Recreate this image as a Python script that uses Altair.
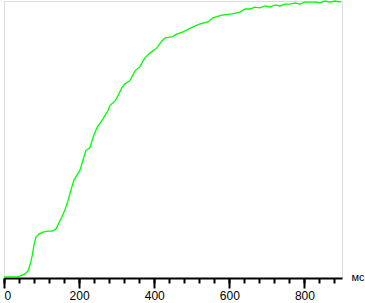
import altair as alt
import pandas as pd

# time, ms
t_ms = [0, 35, 43, 56, 64, 69, 75, 80, 85, 93, 104, 117, 128, 138, 146, 154, 162,
        170, 178, 186, 202, 218, 229, 237, 248, 264, 277, 282, 296, 301, 314, 322,
        335, 349, 362, 375, 389, 407, 421, 429, 447, 461, 477, 503, 522, 543, 556,
        580, 607, 628, 642, 655, 668, 682, 695, 708, 722, 735, 748, 762, 775, 788,
        801, 828, 841, 855, 868, 881, 897]
# cumulative value, %
v_pct = [0, 0, 0.4, 1.1, 2.2, 4.3, 7.6, 11.6, 14.4, 15.5, 16.2, 16.6, 16.6, 17.3,
         19.5, 21.7, 24.2, 27.4, 31.4, 35.0, 38.6, 45.8, 46.9, 50.5, 54.2, 57.4,
         60.3, 62.1, 63.9, 65.0, 68.6, 70.0, 71.1, 74.7, 76.2, 79.4, 81.2, 83.0,
         85.6, 86.6, 87.0, 88.1, 88.8, 90.6, 91.7, 92.4, 93.9, 94.9, 95.3, 96.0,
         97.1, 97.1, 97.8, 97.5, 98.2, 97.8, 98.6, 98.2, 98.9, 98.9, 99.3, 98.9,
         99.6, 99.6, 99.3, 100, 99.6, 100, 99.6]

major_ticks = [0, 200, 400, 600, 800]
minor_ticks = list(range(0, 881, 40))

df = pd.DataFrame({"t": t_ms, "v": v_pct})

xscale = alt.Scale(domain=[0, 900], nice=False, zero=False)
yscale = alt.Scale(domain=[-0.4, 100], nice=False, zero=False)

base = alt.Chart(df)

minor = base.mark_line(opacity=0).encode(
    x=alt.X(
        "t:Q",
        scale=xscale,
        axis=alt.Axis(
            orient="bottom",
            values=minor_ticks,
            tickSize=5,
            tickWidth=2,
            tickColor="#000000",
            labels=False,
            domain=False,
            grid=False,
            title=None,
        ),
    ),
    y=alt.Y("v:Q", scale=yscale, axis=None),
)

line = base.mark_line(color="#00ff00", strokeWidth=1.3).encode(
    x=alt.X(
        "t:Q",
        scale=xscale,
        axis=alt.Axis(
            orient="bottom",
            values=major_ticks,
            tickSize=10,
            tickWidth=2,
            tickColor="#000000",
            domainColor="#000000",
            domainWidth=2,
            labelFont="Liberation Sans",
            labelFontSize=12,
            labelPadding=2,
            grid=False,
            title="мс",
            titleFont="Liberation Sans",
            titleFontSize=11,
            titleFontWeight="normal",
            titleAlign="left",
            titleBaseline="alphabetic",
            titleX=347,
            titleY=2,
        ),
    ),
    y=alt.Y("v:Q", scale=yscale, axis=None),
)

chart = (
    alt.layer(minor, line)
    .resolve_axis(x="independent")
    .properties(
        width=338,
        height=277,
        autosize=alt.AutoSizeParams(type="none"),
        padding={"left": 4, "top": 1, "right": 23, "bottom": 25},
    )
)

chart.save("out.html", embed_options={"renderer": "svg", "actions": False})
